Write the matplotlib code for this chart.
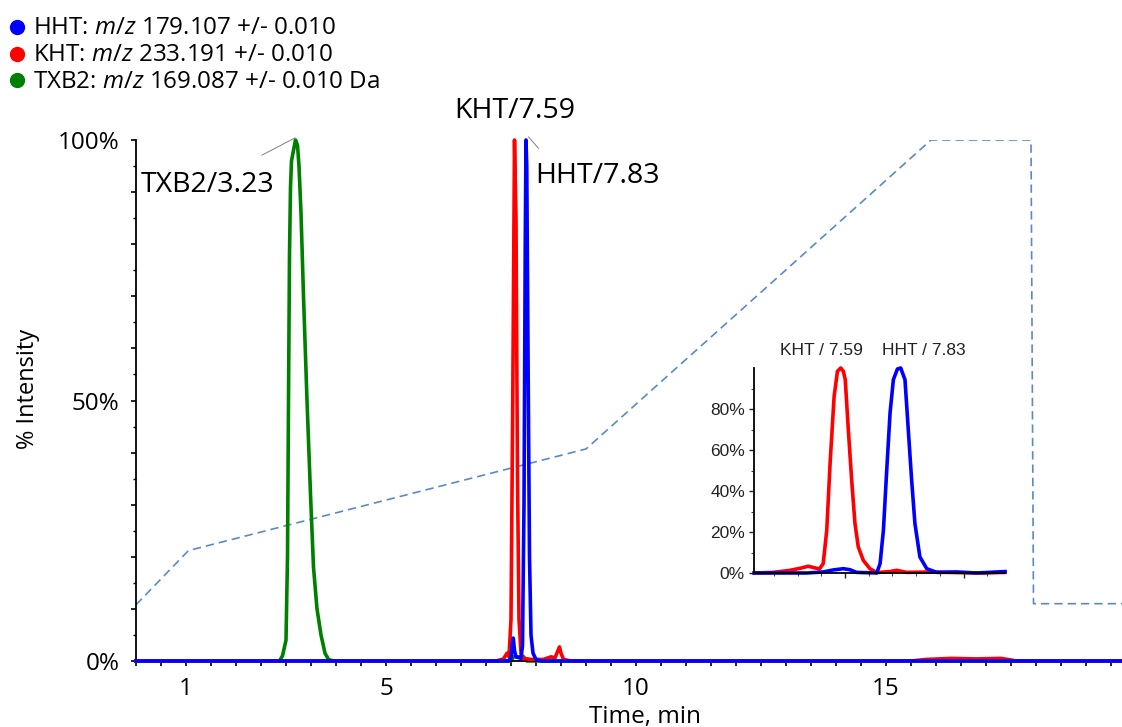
import numpy as np
import matplotlib.pyplot as plt
from matplotlib.lines import Line2D
from matplotlib.ticker import FixedLocator, MultipleLocator, FuncFormatter

plt.rcParams['font.family'] = ['Open Sans', 'DejaVu Sans']
plt.rcParams['mathtext.fontset'] = 'custom'
plt.rcParams['mathtext.rm'] = 'Open Sans'
plt.rcParams['mathtext.it'] = 'Open Sans:italic'

# gradient (%B), drawn on the same % axis
grad_t = [0.0, 1.05, 9.0, 15.9, 17.9, 17.95, 19.72]
grad_b = [10.8, 21.2, 40.7, 100.0, 100.0, 11.0, 11.0]

# main XICs (time, min / % intensity)
txb2_t = [0.0, 2.55, 2.87, 2.93, 3.00, 3.03, 3.05, 3.07, 3.09, 3.11, 3.15, 3.19,
          3.23, 3.26, 3.30, 3.35, 3.42, 3.49, 3.55, 3.62, 3.70, 3.78, 3.85, 3.95,
          7.50, 7.55, 7.75, 7.82, 19.72]
txb2_i = [0, 0, 0, 1, 4, 20, 50, 78, 91, 96, 98, 100,
          99, 95, 86, 70, 50, 32, 18, 10, 5, 1.5, 0.3, 0,
          0, 0.8, 0.8, 0, 0]

kht_t = [0.0, 7.20, 7.35, 7.42, 7.46, 7.50, 7.535, 7.57, 7.60, 7.63, 7.66, 7.70,
         7.75, 7.90, 8.15, 8.30, 8.38, 8.43, 8.47, 8.50, 8.55, 8.70,
         15.5, 15.8, 16.3, 16.8, 17.3, 17.5, 17.6, 19.72]
kht_i = [0, 0, 0.4, 1.5, 0.8, 8, 50, 100, 85, 35, 8, 1.5,
         0.5, 0.3, 0.3, 0.8, 0.6, 1.8, 2.7, 1.5, 0.3, 0,
         0, 0.3, 0.5, 0.4, 0.5, 0.2, 0, 0]

hht_t = [0.0, 7.45, 7.50, 7.53, 7.545, 7.57, 7.60, 7.70, 7.73, 7.76, 7.785, 7.80,
         7.815, 7.84, 7.87, 7.90, 7.94, 8.00, 8.10, 19.72]
hht_i = [0, 0, 0.6, 3.5, 4.4, 2.0, 0.8, 0.5, 3, 30, 80, 100,
         95, 60, 20, 5, 1.5, 0.3, 0, 0]

# inset (zoom on KHT / HHT)
ins_kht_t = [7.217, 7.297, 7.368, 7.410, 7.445, 7.469, 7.492, 7.508, 7.523, 7.537,
             7.554, 7.568, 7.582, 7.593, 7.601, 7.614, 7.628, 7.642, 7.656, 7.677,
             7.705, 7.734, 7.79, 7.818, 7.86, 7.959, 8.071, 8.184, 8.275]
ins_kht_i = [0, 0.3, 1.3, 2.3, 3.3, 2.6, 2.0, 4.6, 20.9, 53.5,
             86.1, 98.4, 100, 98.4, 94.3, 69.8, 45.4, 24.1, 12.7, 6.2,
             2.1, 0.2, 0.7, 1.3, 0.3, 0.5, 0.2, 0, 0.3]

ins_hht_t = [7.217, 7.438, 7.508, 7.551, 7.593, 7.621, 7.649, 7.734, 7.748, 7.762,
             7.776, 7.79, 7.804, 7.821, 7.835, 7.853, 7.867, 7.881, 7.895, 7.916,
             7.945, 7.987, 8.071, 8.156, 8.275]
ins_hht_i = [0, 0, 0.5, 1.5, 2.1, 1.6, 0.3, 0, 4.6, 20.9,
             50.2, 78, 94.3, 99.5, 100, 94.3, 69.8, 45.4, 24.1, 7.8,
             2.1, 0.3, 0.5, 0, 0.7]

x_major = [1, 5, 10, 15]
legend_rows = [('blue', 'HHT: $m/z$ 179.107 +/- 0.010'),
               ('red', 'KHT: $m/z$ 233.191 +/- 0.010'),
               ('green', 'TXB2: $m/z$ 169.087 +/- 0.010 Da')]

W, H = 1122, 727
fig = plt.figure(figsize=(W / 100, H / 100), dpi=100)
ax = fig.add_axes([136 / W, 1 - 661 / H, (W - 136) / W, (661 - 140) / H])

ax.plot(grad_t, grad_b, color='#5a8ac6', lw=1.2, ls=(0, (5, 3)), zorder=1)
ax.plot(txb2_t, txb2_i, color='green', lw=2.6, clip_on=False, zorder=2)
ax.plot(kht_t, kht_i, color='red', lw=2.6, clip_on=False, zorder=3)
ax.plot(hht_t, hht_i, color='blue', lw=2.6, clip_on=False, zorder=4)

ax.set_xlim(0, 19.72)
ax.set_ylim(0, 100)
for s in ['top', 'right']:
    ax.spines[s].set_visible(False)
for s in ['left', 'bottom']:
    ax.spines[s].set_linewidth(1.3)

ax.xaxis.set_major_locator(FixedLocator(x_major))
ax.xaxis.set_minor_locator(MultipleLocator(0.5))
ax.yaxis.set_major_locator(MultipleLocator(10))
ax.yaxis.set_minor_locator(MultipleLocator(5))
ax.yaxis.set_major_formatter(FuncFormatter(
    lambda v, p: f'{int(round(v))}%' if int(round(v)) in (0, 50, 100) else ''))
ax.tick_params(axis='x', which='both', length=3.4, width=1.2, pad=8, labelsize=17.5)
ax.tick_params(axis='y', which='major', length=3.8, width=1.2, pad=8, labelsize=17.5)
ax.tick_params(axis='y', which='minor', length=2.2, width=1.0)

# peak labels
ax.text(0.09, 90.1, 'TXB2/3.23', fontsize=20.5, ha='left', va='baseline')
ax.plot([2.52, 3.18], [97.1, 100.4], color='#808080', lw=0.7, clip_on=False)
ax.text(7.574, 104.3, 'KHT/7.59', fontsize=20.5, ha='center', va='baseline', clip_on=False)
ax.text(7.98, 91.7, 'HHT/7.83', fontsize=20.5, ha='left', va='baseline')
ax.plot([7.85, 8.05], [100.6, 98.4], color='#808080', lw=0.7, clip_on=False)

fig.text(27.7 / W, 1 - 389 / H, '% Intensity', rotation=90, fontsize=17,
         ha='center', va='center')
fig.text(645 / W, 1 - 723 / H, 'Time, min', fontsize=17.5, ha='center', va='baseline')

# legend
for k, (c, lab) in enumerate(legend_rows):
    yc = 27 + 26.5 * k
    fig.add_artist(Line2D([17 / W], [1 - yc / H], marker='o', ms=10, color=c,
                          mec=c, ls='none', transform=fig.transFigure))
    fig.text(33 / W, 1 - (yc + 7.5) / H, lab, fontsize=17.4, ha='left', va='baseline')

# inset
ia = fig.add_axes([754 / W, 1 - 573 / H, (1005 - 754) / W, (573 - 368) / H])
ia.patch.set_alpha(0)
ia.plot(ins_kht_t, ins_kht_i, color='red', lw=2.6, clip_on=False)
ia.plot(ins_hht_t, ins_hht_i, color='blue', lw=2.6, clip_on=False)
ia.set_xlim(7.216, 8.275)
ia.set_ylim(0, 100)
for s in ['top', 'right']:
    ia.spines[s].set_visible(False)
for s in ['left', 'bottom']:
    ia.spines[s].set_linewidth(1.3)
ia.xaxis.set_major_locator(FixedLocator([7.6, 8.1]))
ia.xaxis.set_minor_locator(FixedLocator([7.3, 7.4, 7.5, 7.7, 7.8, 7.9, 8.0, 8.2]))
ia.xaxis.set_major_formatter(FuncFormatter(lambda v, p: ''))
ia.yaxis.set_major_locator(FixedLocator([0, 20, 40, 60, 80]))
ia.yaxis.set_minor_locator(FixedLocator([10, 30, 50, 70, 90]))
ia.yaxis.set_major_formatter(FuncFormatter(lambda v, p: f'{int(v)}%'))
ia.tick_params(which='major', length=3.5, width=1.0, labelsize=12.5, pad=3, colors='#222222')
ia.tick_params(which='minor', length=2.0, width=0.8, colors='#444444')
for lab in ia.get_yticklabels():
    lab.set_family(['Liberation Sans', 'DejaVu Sans'])
ia.text(7.499, 108.3, 'KHT / 7.59', fontsize=12.5, ha='center', va='center',
        family=['Liberation Sans', 'DejaVu Sans'], color='#222222')
ia.text(7.933, 108.3, 'HHT / 7.83', fontsize=12.5, ha='center', va='center',
        family=['Liberation Sans', 'DejaVu Sans'], color='#222222')

fig.savefig('out.png', dpi=100)
